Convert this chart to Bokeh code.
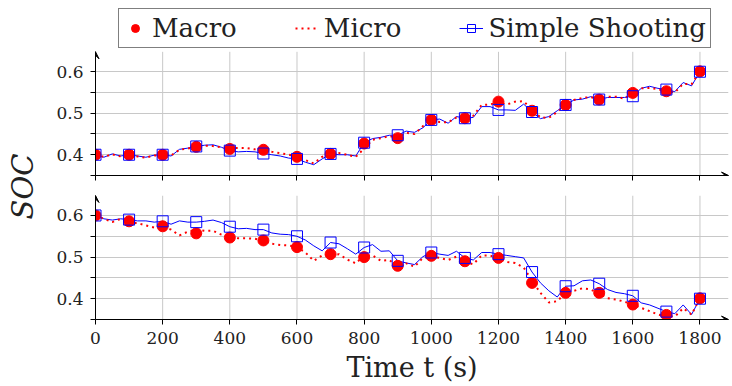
import math
from bokeh.plotting import figure
from bokeh.models import (FixedTicker, Legend, LegendItem, Label, Arrow, VeeHead,
                          Range1d, ColumnDataSource)
from bokeh.layouts import row, column
from bokeh.embed import file_html
from bokeh.resources import INLINE

FONT = "DejaVu Serif"

# ---------------- data ----------------
x_ticks = [0, 200, 400, 600, 800, 1000, 1200, 1400, 1600, 1800]
y_ticks = [0.4, 0.5, 0.6]
y_minor = [0.35, 0.45, 0.55]

t_coarse = [0, 100, 200, 300, 400, 500, 600, 700, 800, 900,
            1000, 1100, 1200, 1300, 1400, 1500, 1600, 1700, 1800]

t_fine = [0, 25, 50, 75, 100, 125, 150, 175, 200, 225, 250, 275, 300, 325, 350, 375,
          400, 425, 450, 475, 500, 525, 550, 575, 600, 625, 650, 675, 700, 725, 750, 775,
          800, 825, 850, 875, 900, 925, 950, 975, 1000, 1025, 1050, 1075, 1100, 1125,
          1150, 1175, 1200, 1225, 1250, 1275, 1300, 1325, 1350, 1375, 1400, 1425, 1450,
          1475, 1500, 1525, 1550, 1575, 1600, 1625, 1650, 1675, 1700, 1725, 1750, 1775, 1800]

# top panel
macro_top = [0.400, 0.400, 0.400, 0.419, 0.414, 0.412, 0.395, 0.402, 0.427, 0.440,
             0.484, 0.488, 0.528, 0.506, 0.520, 0.533, 0.549, 0.553, 0.601]
shoot_pts_top = [0.400, 0.400, 0.400, 0.420, 0.410, 0.403, 0.390, 0.402, 0.429, 0.447,
                 0.484, 0.488, 0.508, 0.503, 0.520, 0.533, 0.541, 0.557, 0.600]
shoot_top = [0.400, 0.394, 0.402, 0.397, 0.400, 0.397, 0.394, 0.399, 0.400, 0.397,
             0.413, 0.416, 0.420, 0.423, 0.424, 0.418, 0.410, 0.407, 0.408, 0.407,
             0.403, 0.400, 0.397, 0.392, 0.390, 0.382, 0.376, 0.390, 0.402, 0.400,
             0.400, 0.397, 0.429, 0.439, 0.442, 0.447, 0.447, 0.457, 0.454, 0.465,
             0.484, 0.486, 0.476, 0.492, 0.488, 0.490, 0.516, 0.516, 0.508, 0.508,
             0.507, 0.522, 0.503, 0.487, 0.492, 0.506, 0.520, 0.532, 0.534, 0.540,
             0.533, 0.538, 0.538, 0.538, 0.541, 0.560, 0.565, 0.560, 0.557, 0.552,
             0.574, 0.566, 0.600]
micro_top = [0.400, 0.395, 0.401, 0.396, 0.399, 0.396, 0.393, 0.398, 0.400, 0.398,
             0.412, 0.415, 0.420, 0.422, 0.421, 0.418, 0.416, 0.416, 0.416, 0.413,
             0.411, 0.407, 0.404, 0.400, 0.396, 0.387, 0.379, 0.395, 0.404, 0.404,
             0.400, 0.395, 0.415, 0.436, 0.440, 0.445, 0.441, 0.453, 0.450, 0.469,
             0.482, 0.479, 0.478, 0.490, 0.489, 0.494, 0.520, 0.521, 0.527, 0.521,
             0.528, 0.529, 0.508, 0.490, 0.489, 0.503, 0.520, 0.532, 0.537, 0.539,
             0.534, 0.540, 0.540, 0.535, 0.550, 0.560, 0.561, 0.558, 0.553, 0.550,
             0.571, 0.570, 0.601]

# bottom panel
macro_bot = [0.600, 0.586, 0.574, 0.557, 0.547, 0.540, 0.524, 0.507, 0.500, 0.479,
             0.503, 0.490, 0.498, 0.438, 0.414, 0.414, 0.386, 0.361, 0.401]
shoot_pts_bot = [0.600, 0.590, 0.586, 0.584, 0.573, 0.566, 0.550, 0.535, 0.523, 0.491,
                 0.511, 0.498, 0.507, 0.464, 0.430, 0.436, 0.407, 0.369, 0.400]
shoot_bot = [0.600, 0.592, 0.589, 0.592, 0.590, 0.587, 0.587, 0.584, 0.586, 0.579,
             0.587, 0.584, 0.584, 0.586, 0.589, 0.583, 0.573, 0.568, 0.569, 0.566,
             0.566, 0.558, 0.555, 0.554, 0.550, 0.541, 0.527, 0.515, 0.535, 0.532,
             0.520, 0.507, 0.523, 0.530, 0.514, 0.515, 0.491, 0.486, 0.482, 0.501,
             0.511, 0.507, 0.504, 0.514, 0.498, 0.493, 0.511, 0.511, 0.507, 0.504,
             0.501, 0.498, 0.464, 0.438, 0.419, 0.404, 0.430, 0.431, 0.443, 0.445,
             0.436, 0.422, 0.415, 0.412, 0.407, 0.390, 0.385, 0.377, 0.369, 0.364,
             0.385, 0.362, 0.400]
micro_bot = [0.600, 0.592, 0.584, 0.592, 0.582, 0.582, 0.576, 0.571, 0.574, 0.566,
             0.552, 0.561, 0.566, 0.563, 0.563, 0.554, 0.550, 0.545, 0.545, 0.544,
             0.540, 0.532, 0.529, 0.528, 0.524, 0.511, 0.491, 0.504, 0.504, 0.507,
             0.494, 0.485, 0.504, 0.504, 0.491, 0.493, 0.478, 0.485, 0.477, 0.498,
             0.501, 0.498, 0.493, 0.501, 0.488, 0.483, 0.504, 0.504, 0.496, 0.488,
             0.486, 0.475, 0.443, 0.414, 0.391, 0.394, 0.414, 0.419, 0.425, 0.422,
             0.412, 0.401, 0.398, 0.393, 0.386, 0.378, 0.370, 0.362, 0.357, 0.357,
             0.377, 0.362, 0.401]

X_MIN, X_MAX = 0, 1885
Y_MIN, Y_MAX = 0.35, 0.648
Y_TOP_EXT = 0.7524   # top panel frame also holds the legend area

GRID = "#c8c8c8"


def make_panel(height, y_end, top_border, bottom_border, show_labels):
    p = figure(width=684, height=height, output_backend="svg", toolbar_location=None,
               x_range=Range1d(X_MIN, X_MAX), y_range=Range1d(Y_MIN, y_end),
               min_border_left=47, min_border_right=4,
               min_border_top=top_border, min_border_bottom=bottom_border)
    p.outline_line_color = None
    p.background_fill_color = "white"
    p.border_fill_color = "white"
    p.xaxis.ticker = FixedTicker(ticks=x_ticks, minor_ticks=[])
    p.yaxis.ticker = FixedTicker(ticks=y_ticks, minor_ticks=y_minor)
    p.yaxis.bounds = (Y_MIN, Y_MAX)
    for ax in (p.xaxis[0], p.yaxis[0]):
        ax.axis_line_color = "black"
        ax.axis_line_width = 1
        ax.major_tick_line_color = "black"
        ax.major_tick_in = 0
        ax.major_tick_out = 5
        ax.minor_tick_line_color = "black"
        ax.minor_tick_in = 0
        ax.minor_tick_out = 5
        ax.major_label_text_font = FONT
        ax.major_label_text_font_size = "17px"
        ax.major_label_text_color = "#222222"
        ax.major_label_standoff = 7
    if not show_labels:
        p.xaxis.major_label_text_font_size = "1px"
        p.xaxis.major_label_text_color = None
        p.xaxis.major_label_standoff = 0
    p.xgrid.grid_line_color = None
    p.ygrid.grid_line_color = GRID
    p.ygrid.minor_grid_line_color = GRID
    p.ygrid.grid_line_width = 1
    # vertical grid lines limited to the panel height
    p.segment(x0=x_ticks, y0=[Y_MIN] * len(x_ticks), x1=x_ticks, y1=[Y_MAX] * len(x_ticks),
              line_color=GRID, line_width=1, level="underlay")
    # axis arrows
    p.add_layout(Arrow(end=VeeHead(size=7, fill_color="black", line_color="black"),
                       x_start=X_MIN, y_start=Y_MIN, x_end=X_MIN, y_end=Y_MAX,
                       line_color="black", line_width=1))
    p.add_layout(Arrow(end=VeeHead(size=7, fill_color="black", line_color="black"),
                       x_start=X_MIN, y_start=Y_MIN, x_end=X_MAX, y_end=Y_MIN,
                       line_color="black", line_width=1))
    return p


def draw(p, macro, micro, shoot, shoot_pts):
    fine = ColumnDataSource(dict(t=t_fine, micro=micro, shoot=shoot))
    coarse = ColumnDataSource(dict(t=t_coarse, macro=macro, shoot=shoot_pts))
    r_sl = p.line("t", "shoot", source=fine, line_color="blue", line_width=1)
    r_mi = p.line("t", "micro", source=fine, line_color="red", line_width=2,
                  line_dash="2 4", line_cap="butt")
    r_ma = p.scatter("t", "macro", source=coarse, marker="circle", size=11,
                     fill_color="red", line_color="red")
    r_sq = p.scatter("t", "shoot", source=coarse, marker="square", size=11,
                     fill_color=None, line_color="blue", line_width=1)
    return r_ma, r_mi, r_sl, r_sq


top = make_panel(185, Y_TOP_EXT, 8, 10, False)
r_ma, r_mi, r_sl, r_sq = draw(top, macro_top, micro_top, shoot_top, shoot_pts_top)

bottom = make_panel(201, Y_MAX, 10, 67, True)
draw(bottom, macro_bot, micro_bot, shoot_bot, shoot_pts_bot)
bottom.xaxis.axis_label = "Time t (s)"
bottom.xaxis.axis_label_text_font = FONT
bottom.xaxis.axis_label_text_font_style = "normal"
bottom.xaxis.axis_label_text_font_size = "27px"
bottom.xaxis.axis_label_text_color = "#222222"
bottom.xaxis.axis_label_standoff = 5

legend = Legend(items=[LegendItem(label="Macro", renderers=[r_ma]),
                       LegendItem(label="Micro", renderers=[r_mi]),
                       LegendItem(label="Simple Shooting", renderers=[r_sl, r_sq])],
                orientation="horizontal", location=(23, 127),
                label_text_font=FONT, label_text_font_size="26px",
                label_text_color="#222222", label_height=30,
                glyph_width=24, glyph_height=20, label_standoff=5, spacing=58,
                padding=4, margin=0, border_line_color="black", border_line_width=1,
                background_fill_color="white", background_fill_alpha=1.0)
top.add_layout(legend)

label_fig = figure(width=48, height=386, output_backend="svg", toolbar_location=None,
                   x_range=Range1d(0, 1), y_range=Range1d(0, 1),
                   min_border=0, min_border_left=0, min_border_right=0,
                   min_border_top=0, min_border_bottom=0)
label_fig.axis.visible = False
label_fig.grid.visible = False
label_fig.outline_line_color = None
label_fig.add_layout(Label(x=0.479, y=0.518, text="SOC", angle=math.pi / 2,
                           text_align="center", text_baseline="middle",
                           text_font=FONT, text_font_style="italic",
                           text_font_size="29px", text_color="#222222"))

layout = row(label_fig, column(top, bottom, spacing=0), spacing=0)

open("out.html", "w").write(file_html(layout, INLINE))
